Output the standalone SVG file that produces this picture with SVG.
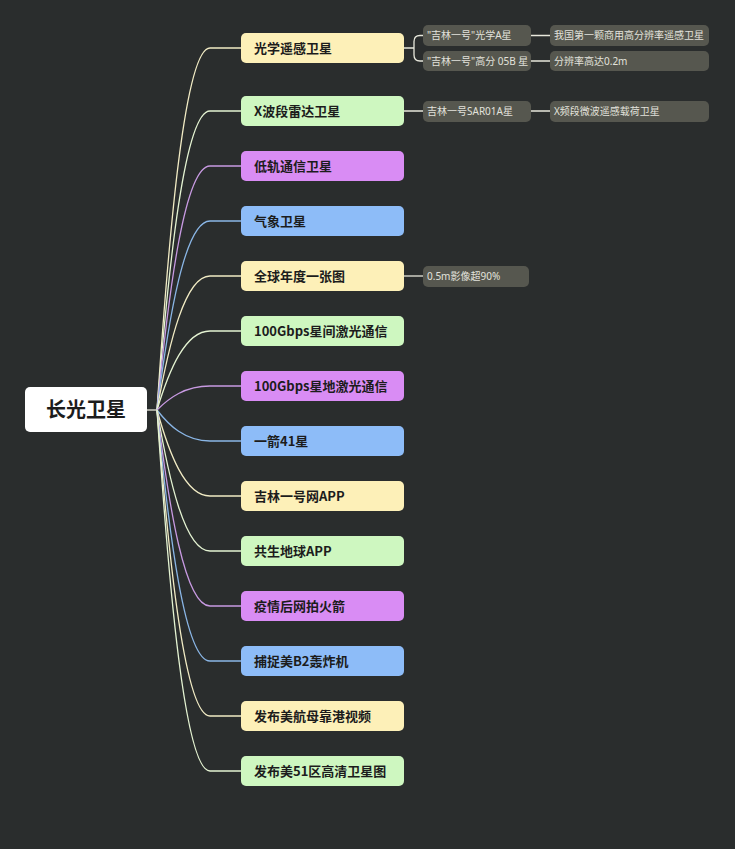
<svg xmlns="http://www.w3.org/2000/svg" width="735" height="849" viewBox="0 0 735 849">
<style>
.bg{fill:#2a2d2d}
.n rect{rx:5;ry:5}
.n text{font-family:"Noto Sans CJK SC","Noto Sans",sans-serif;font-size:13px;font-weight:bold;fill:#1c1c1c}
.y rect{fill:#fdf0b8}
.g rect{fill:#cef7c0}
.p rect{fill:#d98cf4}
.b rect{fill:#8dbcf8}
.s rect{fill:#56574f;rx:5;ry:5}
.s text{font-family:"Noto Sans","Noto Sans CJK SC",sans-serif;font-size:10px;fill:#e2e2dc}
.c path{fill:none;stroke-width:1.3}
.cy{stroke:#f1ebc4}
.cg{stroke:#e4f3d2}
.cp{stroke:#c89ae2}
.cb{stroke:#8ab6e6}
.cw{stroke:#e8e8dc}
</style>
<rect class="bg" x="0" y="0" width="735" height="849"/>
<g id="connectors" class="c">
<path class="cw" d="M147,410 L157,410"/>
<path class="cy" d="M157,410 C169,229 185,48 210,48 L241,48"/>
<path class="cg" d="M157,410 C169,260.5 185,111 210,111 L241,111"/>
<path class="cp" d="M157,410 C169,288 185,166 210,166 L241,166"/>
<path class="cb" d="M157,410 C169,315.5 185,221 210,221 L241,221"/>
<path class="cy" d="M157,410 C169,343 185,276 210,276 L241,276"/>
<path class="cg" d="M157,410 C169,370.5 185,331 210,331 L241,331"/>
<path class="cp" d="M157,410 C169,398 185,386 210,386 L241,386"/>
<path class="cb" d="M157,410 C169,425.5 185,441 210,441 L241,441"/>
<path class="cy" d="M157,410 C169,453 185,496 210,496 L241,496"/>
<path class="cg" d="M157,410 C169,480.5 185,551 210,551 L241,551"/>
<path class="cp" d="M157,410 C169,508 185,606 210,606 L241,606"/>
<path class="cb" d="M157,410 C169,535.5 185,661 210,661 L241,661"/>
<path class="cy" d="M157,410 C169,563 185,716 210,716 L241,716"/>
<path class="cg" d="M157,410 C169,590.5 185,771 210,771 L241,771"/>
<path class="cw" d="M404,48 L414,48 M423,35.5 L420,35.5 Q414,35.5 414,41.5 L414,55 Q414,61 420,61 L423,61"/>
<path class="cw" d="M531,35.5 L550,35.5 M531,61 L550,61"/>
<path class="cw" d="M404,111 L423,111 M531,111 L550,111"/>
<path class="cw" d="M404,276 L423,276"/>
</g>
<g id="root">
<rect x="25" y="387" width="122" height="45" rx="5" fill="#ffffff"/>
<text x="86" y="417" text-anchor="middle" font-family="Noto Sans CJK SC,Noto Sans,sans-serif" font-size="20" font-weight="bold" fill="#1c1c1c">长光卫星</text>
</g>
<g id="n1" class="n y"><rect x="241" y="33" width="163" height="30"/><text x="254" y="52.5">光学遥感卫星</text></g>
<g id="n2" class="n g"><rect x="241" y="96" width="163" height="30"/><text x="254" y="115.5">X波段雷达卫星</text></g>
<g id="n3" class="n p"><rect x="241" y="151" width="163" height="30"/><text x="254" y="170.5">低轨通信卫星</text></g>
<g id="n4" class="n b"><rect x="241" y="206" width="163" height="30"/><text x="254" y="225.5">气象卫星</text></g>
<g id="n5" class="n y"><rect x="241" y="261" width="163" height="30"/><text x="254" y="280.5">全球年度一张图</text></g>
<g id="n6" class="n g"><rect x="241" y="316" width="163" height="30"/><text x="254" y="335.5">100Gbps星间激光通信</text></g>
<g id="n7" class="n p"><rect x="241" y="371" width="163" height="30"/><text x="254" y="390.5">100Gbps星地激光通信</text></g>
<g id="n8" class="n b"><rect x="241" y="426" width="163" height="30"/><text x="254" y="445.5">一箭41星</text></g>
<g id="n9" class="n y"><rect x="241" y="481" width="163" height="30"/><text x="254" y="500.5">吉林一号网APP</text></g>
<g id="n10" class="n g"><rect x="241" y="536" width="163" height="30"/><text x="254" y="555.5">共生地球APP</text></g>
<g id="n11" class="n p"><rect x="241" y="591" width="163" height="30"/><text x="254" y="610.5">疫情后网拍火箭</text></g>
<g id="n12" class="n b"><rect x="241" y="646" width="163" height="30"/><text x="254" y="665.5">捕捉美B2轰炸机</text></g>
<g id="n13" class="n y"><rect x="241" y="701" width="163" height="30"/><text x="254" y="720.5">发布美航母靠港视频</text></g>
<g id="n14" class="n g"><rect x="241" y="756" width="163" height="30"/><text x="254" y="775.5">发布美51区高清卫星图</text></g>
<g id="s1" class="s"><rect x="423" y="25" width="108" height="21"/><text x="427" y="39">"吉林一号"光学A星</text></g>
<g id="s2" class="s"><rect x="423" y="51" width="108" height="20"/><text x="427" y="64.5">"吉林一号"高分 05B 星</text></g>
<g id="s3" class="s"><rect x="550" y="25" width="159" height="21"/><text x="554" y="39">我国第一颗商用高分辨率遥感卫星</text></g>
<g id="s4" class="s"><rect x="550" y="51" width="159" height="20"/><text x="554" y="64.5">分辨率高达0.2m</text></g>
<g id="s5" class="s"><rect x="423" y="101" width="108" height="21"/><text x="427" y="115">吉林一号SAR01A星</text></g>
<g id="s6" class="s"><rect x="550" y="101" width="159" height="21"/><text x="554" y="115">X频段微波遥感载荷卫星</text></g>
<g id="s7" class="s"><rect x="423" y="266" width="106" height="21"/><text x="427" y="280">0.5m影像超90%</text></g>
</svg>
